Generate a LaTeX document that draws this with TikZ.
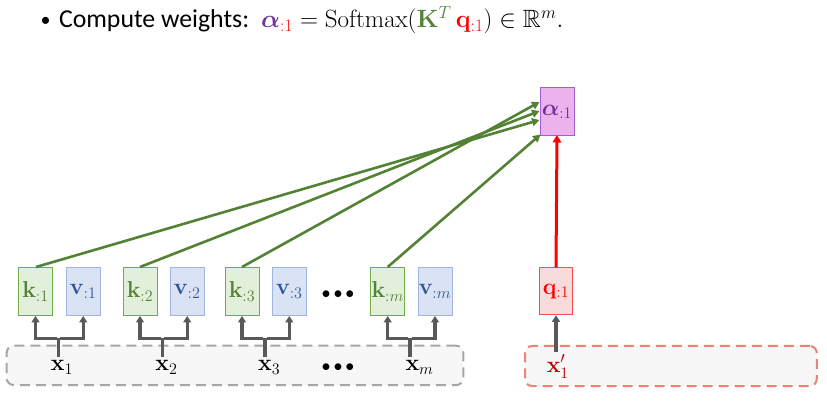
\RequirePackage{fix-cm}
\documentclass[tikz,border=0pt]{standalone}
\usepackage[no-math]{fontspec}
\usepackage{amssymb,bm}
\usetikzlibrary{arrows.meta}
\newfontfamily\carlito{Carlito}
\definecolor{kgreen}{HTML}{548235}
\definecolor{kfill}{HTML}{E2EFDA}
\definecolor{kdraw}{HTML}{70AD47}
\definecolor{vfill}{HTML}{DAE3F3}
\definecolor{vdraw}{HTML}{9DB5E0}
\definecolor{vtext}{HTML}{2F5597}
\definecolor{afill}{HTML}{ECB2EC}
\definecolor{adraw}{HTML}{A45CCF}
\definecolor{atext}{HTML}{7030A0}
\definecolor{qfill}{HTML}{F8DCDC}
\definecolor{qdraw}{HTML}{FF4B4B}
\definecolor{qtext}{HTML}{FF0000}
\definecolor{xred}{HTML}{C00000}
\definecolor{arrgray}{HTML}{595959}
\definecolor{dashgray}{HTML}{A6A6A6}
\definecolor{dashred}{HTML}{EB8573}
\definecolor{panel}{HTML}{F7F7F7}
\newcommand{\boxfont}{\fontsize{23}{27}\selectfont}
\newcommand{\threedots}{{\carlito\fontsize{19}{22}\selectfont\textbullet\hspace{2.5pt}\textbullet\hspace{2.5pt}\textbullet}}
\begin{document}
\begin{tikzpicture}[x=1pt,y=-1pt,
  cell/.style={minimum width=34pt, minimum height=48pt, inner sep=0pt, line width=1pt, font=\boxfont},
  kbox/.style={cell, draw=kdraw, fill=kfill, text=kgreen},
  vbox/.style={cell, draw=vdraw, fill=vfill, text=vtext},
  abox/.style={cell, draw=adraw, fill=afill, text=atext},
  qbox/.style={cell, minimum width=33pt, minimum height=47pt, draw=qdraw, fill=qfill, text=qtext},
  lbl/.style={inner sep=3pt, font=\boxfont},
  dotsnode/.style={inner sep=0pt},
  titletext/.style={inner sep=0pt, anchor=base west},
  panelbox/.style={line width=2pt, dash pattern=on 10pt off 6pt, rounded corners=7pt, fill=panel},
  garrow/.style={draw=arrgray, line width=3.2pt, -{Triangle[length=6.5pt,width=8pt]}},
  gline/.style={draw=arrgray, line width=3.2pt},
  greenarrow/.style={draw=kgreen, line width=2.6pt, -{Triangle[length=7.5pt,width=8pt]}},
  redarrow/.style={draw=qtext, line width=3pt, -{Triangle[length=7.5pt,width=8.5pt]}}
]
\useasboundingbox (0,0) rectangle (827,419);
% title
\node[inner sep=0pt, anchor=base] (bul) at (45.5,27) {\carlito\fontsize{20}{24}\selectfont\textbullet};
\node[titletext] (ttext) at (58.8,28) {\carlito\fontsize{25.8}{30}\selectfont Compute weights:};
\node[titletext] (tmath) at (261,28)
  {\fontsize{25}{30}\selectfont$\textcolor{atext}{\bm{\alpha}}_{\textcolor{qtext}{:1}} = \mathrm{Softmax}(\textcolor{kgreen}{\mathbf{K}^{T}}\,\textcolor{qtext}{\mathbf{q}_{:1}}) \in \mathbb{R}^{m}.$};
% panels
\node[panelbox, draw=dashgray, minimum width=456.6pt, minimum height=39.3pt, inner sep=0pt] (pin) at (235,365.4) {};
\node[panelbox, draw=dashred, minimum width=291.7pt, minimum height=40pt, inner sep=0pt] (pq) at (670.9,366) {};
% boxes
\node[kbox] (k1) at (35.5,291.5) {$\mathbf{k}_{:1}$};
\node[vbox] (v1) at (83.2,291.5) {$\mathbf{v}_{:1}$};
\node[kbox] (k2) at (140,291.5) {$\mathbf{k}_{:2}$};
\node[vbox] (v2) at (187.2,291.5) {$\mathbf{v}_{:2}$};
\node[kbox] (k3) at (242,291.5) {$\mathbf{k}_{:3}$};
\node[vbox] (v3) at (289.3,291.5) {$\mathbf{v}_{:3}$};
\node[dotsnode] (dk) at (338,295) {\threedots};
\node[kbox] (km) at (387.7,291.5) {$\mathbf{k}_{:m}$};
\node[vbox] (vm) at (435,291.5) {$\mathbf{v}_{:m}$};
\node[abox] (alpha) at (557,112) {$\bm{\alpha}_{:1}$};
\node[qbox] (q) at (556,291.3) {$\mathbf{q}_{:1}$};
% labels
\node[lbl] (x1) at (62,367.5) {$\mathbf{x}_1$};
\node[lbl] (x2) at (166.5,367.5) {$\mathbf{x}_2$};
\node[lbl] (x3) at (269.2,367.5) {$\mathbf{x}_3$};
\node[dotsnode] (dx) at (338,368) {\threedots};
\node[lbl] (xm) at (419.5,367.5) {$\mathbf{x}_m$};
\node[lbl, text=xred] (xq) at (557.8,366.5) {$\mathbf{x}'_1$};
% junctions
\coordinate (j1) at (58.3,338.3);
\coordinate (j2) at (162.3,338.3);
\coordinate (j3) at (265,338.3);
\coordinate (jm) at (410,338.3);
\foreach \x/\j/\k/\v in {x1/j1/k1/v1, x2/j2/k2/v2, x3/j3/k3/v3, xm/jm/km/vm}{
  \draw[gline] (\x.north -| \j) -- (\j);
  \draw[garrow] ([xshift=-1.6pt]\j) -| (\k.south);
  \draw[garrow] ([xshift=1.6pt]\j) -| (\v.south);
}
\draw[garrow] (xq.north -| q.south) -- (q.south);
% green arrows
\draw[greenarrow] ([xshift=0.5pt]k1.north) -- ([yshift=-8pt]alpha.west);
\draw[greenarrow] (k2.north) -- ([yshift=1pt]alpha.west);
\draw[greenarrow] (k3.north) -- ([yshift=10pt]alpha.west);
\draw[greenarrow] (km.north) -- ([shift={(1pt,2pt)}]alpha.south west);
% red arrow
\draw[redarrow] (q.north) -- ([yshift=1.5pt]alpha.south);
\end{tikzpicture}
\end{document}
